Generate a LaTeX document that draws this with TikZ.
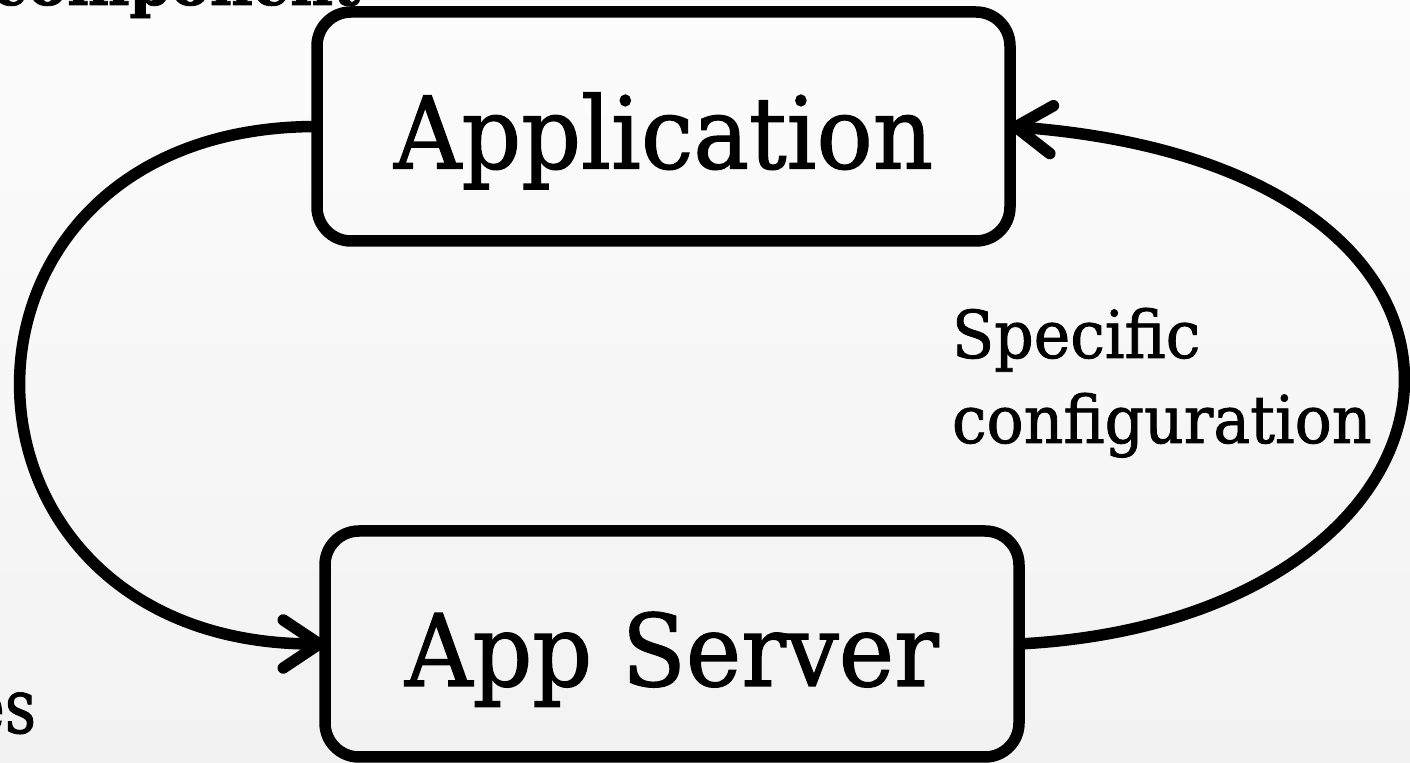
\documentclass[tikz,border=0pt]{standalone}
\usepackage{fontspec}
\newfontfamily\gf{DejaVu Serif}[FakeStretch=0.935,FakeBold=1.2]
\newfontfamily\gfn{DejaVu Serif}[FakeStretch=0.8,FakeBold=1.2]
\usetikzlibrary{arrows.meta,calc}
\definecolor{bgtop}{HTML}{FCFCFC}
\definecolor{bgbot}{HTML}{F2F2F2}
\newcommand\mytightls{\lineskiplimit=-20pt\relax}
\begin{document}
\begin{tikzpicture}[x=0.5pt,y=-0.5pt,
  box/.style={draw=black, line width=5.75pt, rounded corners=17pt, inner sep=0pt, outer sep=0pt,
    text height=42pt, text depth=0pt, font=\gf\fontsize{50}{60}\selectfont},
  link/.style={draw=black, line width=5.75pt, -{Straight Barb[round,length=18pt,width=24pt]}},
  plain/.style={inner sep=0pt, outer sep=0pt}]
\shade[top color=bgtop, bottom color=bgbot] (0,0) rectangle (1410,763);
\useasboundingbox (0,0) rectangle (1410,763);
\node[box, minimum width=346.5pt, minimum height=114.5pt] (app) at (663.5,126.5) {Application};
\node[box, minimum width=347pt, minimum height=113pt] (srv) at (672,644) {App Server};
\node[plain, anchor=base west, align=left, font={\gf\fontsize{33}{42.5}\selectfont\mytightls}] (lbl) at (952,443) {Specific\\configuration};
\node[plain, anchor=base west, font={\gf\bfseries\fontsize{31.5}{36}\selectfont}] (ttl) at (-8,5) {component};
\node[plain, anchor=base east, font={\gfn\fontsize{38}{44}\selectfont}] (es) at (36,733) {es};
\draw[link] (app.west) .. controls ($(app.west)+(-400,0)$) and ($(srv.west)+(-400,0)$) .. (srv.west);
\draw[link] (srv.east) .. controls ($(srv.east)+(480,-25)$) and ($(app.east)+(555,42)$) .. (app.east);
\end{tikzpicture}
\end{document}
